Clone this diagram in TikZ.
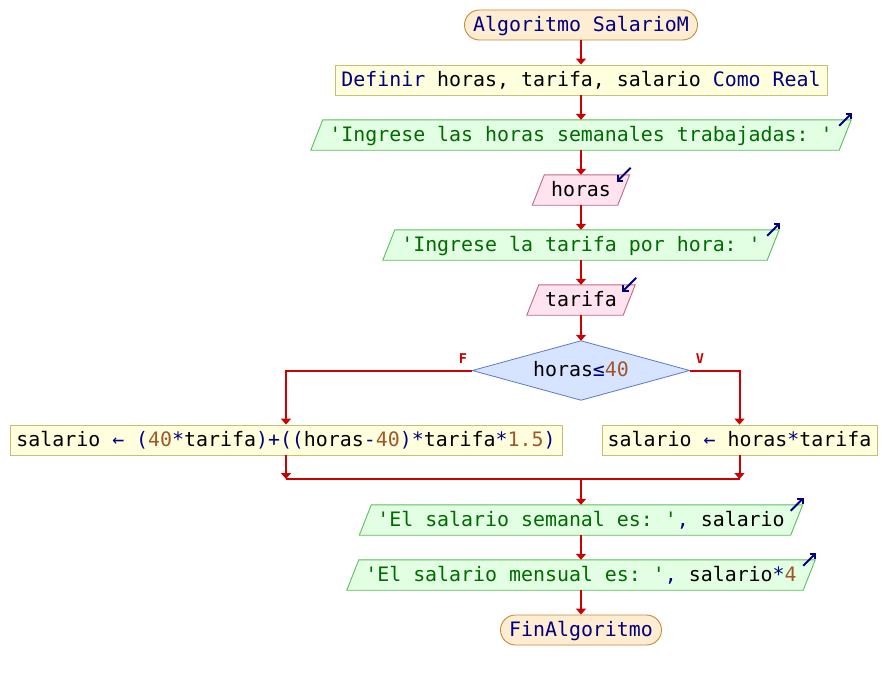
\documentclass[tikz,border=0pt]{standalone}
\usepackage{fontspec}
\newfontfamily\mono{DejaVu Sans Mono}[Ligatures=TeXOff]
\usetikzlibrary{arrows.meta,backgrounds,calc}
\definecolor{kwc}{HTML}{000080}
\definecolor{strc}{HTML}{006B00}
\definecolor{numc}{HTML}{A0562A}
\definecolor{flowc}{HTML}{CC0000}
\definecolor{termf}{HTML}{FFEDD2}
\definecolor{termb}{HTML}{C8893B}
\definecolor{procf}{HTML}{FFFFDD}
\definecolor{procb}{HTML}{C8C070}
\definecolor{outf}{HTML}{E3FFE3}
\definecolor{outb}{HTML}{5CBF5C}
\definecolor{inf}{HTML}{FFE3EE}
\definecolor{inb}{HTML}{C06888}
\definecolor{decf}{HTML}{D6E4FF}
\definecolor{decb}{HTML}{5A78D0}
\newcommand\kw[1]{\textcolor{kwc}{#1}}
\newcommand\str[1]{\textcolor{strc}{#1}}
\newcommand\num[1]{\textcolor{numc}{#1}}
\newcommand\op[1]{\textcolor{kwc}{#1}}
\frenchspacing
\begin{document}
\begin{tikzpicture}[x=1pt,y=-1pt,
  base/.style={inner xsep=0pt, inner ysep=0pt, minimum height=30pt, text height=14pt, text depth=2pt,
    font=\mono\fontsize{19.9}{24}\selectfont, anchor=center},
  term/.style={base, draw=termb, fill=termf, rounded corners=15pt, line width=0.9pt},
  proc/.style={base, draw=procb, fill=procf, line width=0.9pt},
  io/.style={base},
  outst/.style={draw=outb, fill=outf, line width=0.9pt},
  inst/.style={draw=inb, fill=inf, line width=0.9pt},
  decst/.style={draw=decb, fill=decf, line width=0.8pt},
  flow/.style={draw=flowc, line width=2pt, -{Triangle[width=10pt,length=6pt]}},
  plain/.style={draw=flowc, line width=2pt},
  icon/.style={draw=kwc, line width=1.9pt, -{Straight Barb[length=4pt,width=8pt]}},
  lab/.style={text=flowc, font=\mono\bfseries\fontsize{13.5}{15}\selectfont, inner sep=0pt}]
\useasboundingbox (0,0) rectangle (888,680);

\node[term, minimum width=233pt] (start) at (581,25) {\kw{Algoritmo SalarioM}};
\node[proc, minimum width=492pt] (def) at (581,80) {\kw{Definir} horas, tarifa, salario \kw{Como Real}};
\node[io, minimum width=528pt] (o1) at (581,135) {\str{'Ingrese las horas semanales trabajadas: '}};
\node[io, minimum width=85pt] (i1) at (581,190) {horas};
\node[io, minimum width=384pt] (o2) at (581,245) {\str{'Ingrese la tarifa por hora: '}};
\node[io, minimum width=96pt] (i2) at (581,300) {tarifa};
\node[io, minimum width=217pt, minimum height=59pt] (dec) at (581,370.5) {horas\op{≤}\num{40}};
\node[proc, minimum width=552pt] (lb) at (286,440) {salario \op{←} \op{(}\num{40}\op{*}tarifa\op{)+((}horas\op{-}\num{40}\op{)*}tarifa\op{*}\num{1.5}\op{)}};
\node[proc, minimum width=275pt] (rb) at (739.5,440) {salario \op{←} horas\op{*}tarifa};
\coordinate (jl) at (286,479);
\coordinate (jr) at (739.5,479);
\coordinate (j) at (581,479);
\node[io, minimum width=431pt] (o3) at (581,520) {\str{'El salario semanal es: '}\op{,} salario};
\node[io, minimum width=456pt] (o4) at (581,575) {\str{'El salario mensual es: '}\op{,} salario\op{*}\num{4}};
\node[term, minimum width=161pt] (fin) at (581,630) {\kw{FinAlgoritmo}};

\node[lab] (F) at (463,359) {F};
\node[lab] (V) at (700,359) {V};

\begin{scope}[on background layer]
\fill[white] (0,0) rectangle (888,680);
\foreach \n in {o1,o2,o3,o4}
  \filldraw[outst] ([xshift=-6pt]\n.south west) -- ([xshift=-6pt]\n.south east) -- ([xshift=6pt]\n.north east) -- ([xshift=6pt]\n.north west) -- cycle;
\foreach \n in {i1,i2}
  \filldraw[inst] ([xshift=-6pt]\n.south west) -- ([xshift=-6pt]\n.south east) -- ([xshift=6pt]\n.north east) -- ([xshift=6pt]\n.north west) -- cycle;
\filldraw[decst] (dec.west) -- (dec.north) -- (dec.east) -- (dec.south) -- cycle;
\end{scope}

\foreach \n in {o1,o2,o3,o4}
  \draw[icon] ([shift={(-6pt,-6pt)}]\n.north east) -- ([shift={(7pt,7pt)}]\n.north east);
\foreach \n in {i1,i2}
  \draw[icon] ([shift={(7pt,7pt)}]\n.north east) -- ([shift={(-7pt,-7pt)}]\n.north east);

\draw[flow] (start) -- (def);
\draw[flow] (def) -- (o1);
\draw[flow] (o1) -- (i1);
\draw[flow] (i1) -- (o2);
\draw[flow] (o2) -- (i2);
\draw[flow] (i2) -- (dec);
\draw[flow] (dec.west) -| (lb.north);
\draw[flow] (dec.east) -| (rb.north);
\draw[flow] (lb.south) -- (jl);
\draw[flow] (rb.south) -- (jr);
\draw[plain] (jl) -- (jr);
\draw[flow] (j) -- (o3);
\draw[flow] (o3) -- (o4);
\draw[flow] (o4) -- (fin);
\end{tikzpicture}
\end{document}
